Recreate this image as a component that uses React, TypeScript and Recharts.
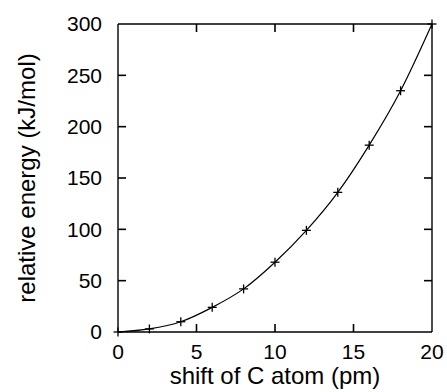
import { LineChart, Line, XAxis, YAxis } from "recharts";

const shiftPm = [0, 2, 4, 6, 8, 10, 12, 14, 16, 18, 20];
const energyKJ = [0, 3, 10, 24, 42, 68, 99, 136, 182, 235, 300];
const xTicks = [0, 5, 10, 15, 20];
const yTicks = [0, 50, 100, 150, 200, 250, 300];

const data = shiftPm.map((x, i) => ({ x, e: energyKJ[i] }));

const FONT = "'Liberation Sans', Arial, Helvetica, sans-serif";
const INK = "#000";
const X_MAX = 20;
const Y_MAX = 300;
const TICK_PX = 8;

// tick marks along the frame, placed through the chart scales
const bottomTicks = xTicks.filter((t) => t > 0 && t < X_MAX).map((t) => ({ x: t, e: 0 }));
const topTicks = xTicks.filter((t) => t > 0 && t < X_MAX).map((t) => ({ x: t, e: Y_MAX }));
const leftTicks = yTicks.filter((t) => t > 0 && t < Y_MAX).map((t) => ({ x: 0, e: t }));
const rightTicks = yTicks.filter((t) => t > 0 && t < Y_MAX).map((t) => ({ x: X_MAX, e: t }));

function Plus(props: any) {
  const { cx, cy } = props;
  if (cx == null || cy == null) return null;
  const s = 4.5;
  return (
    <g stroke={INK} strokeWidth={1.3}>
      <line x1={cx - s} y1={cy} x2={cx + s} y2={cy} />
      <line x1={cx} y1={cy - s} x2={cx} y2={cy + s} />
    </g>
  );
}

function tickMark(dx: number, dy: number) {
  return (props: any) => {
    const { cx, cy, index } = props;
    if (cx == null || cy == null) return null;
    return (
      <path key={`t${index}`} d={`M${cx},${cy}L${cx + dx * TICK_PX},${cy + dy * TICK_PX}`}
        stroke={INK} strokeWidth={1.6} fill="none" />
    );
  };
}

function XTitle(props: any) {
  const vb = props.viewBox;
  return (
    <text x={vb.x + vb.width / 2} y={vb.y + 52} textAnchor="middle"
      fontSize={24} fontFamily={FONT} fill={INK}>
      shift of C atom (pm)
    </text>
  );
}

function YTitle(props: any) {
  const vb = props.viewBox;
  const cx = vb.x + 35;
  const cy = vb.y + vb.height / 2;
  return (
    <text x={cx} y={cy} transform={`rotate(-90 ${cx} ${cy})`} textAnchor="middle"
      fontSize={24} fontFamily={FONT} fill={INK}>
      relative energy (kJ/mol)
    </text>
  );
}

const tickStyle = { fontSize: 21, fontFamily: FONT, fill: INK };
const lineStyle = { stroke: INK, strokeWidth: 1.4 };

export default function App() {
  const tickSeries: [any[], number, number][] = [
    [bottomTicks, 0, -1],
    [topTicks, 0, 1],
    [leftTicks, 1, 0],
    [rightTicks, -1, 0],
  ];
  return (
    <div style={{ position: "absolute", left: 0, top: 0, background: "#fff" }}>
      <LineChart width={447} height={392} data={data}
        margin={{ top: 24, right: 15, bottom: 0, left: 0 }}>
        <XAxis xAxisId="b" dataKey="x" type="number" domain={[0, X_MAX]} ticks={xTicks}
          height={60} tickSize={0} tickMargin={12} tick={tickStyle}
          axisLine={lineStyle} tickLine={false} label={<XTitle />} />
        <XAxis xAxisId="t" mirror orientation="top" dataKey="x" type="number"
          domain={[0, X_MAX]} ticks={xTicks} tick={false}
          axisLine={lineStyle} tickLine={false} />
        <YAxis yAxisId="l" type="number" domain={[0, Y_MAX]} ticks={yTicks} width={118}
          tickSize={0} tickMargin={16} tick={tickStyle}
          axisLine={lineStyle} tickLine={false} label={<YTitle />} />
        <YAxis yAxisId="r" mirror orientation="right" type="number" domain={[0, Y_MAX]}
          ticks={yTicks} tick={false} axisLine={lineStyle} tickLine={false} />

        {tickSeries.map(([pts, dx, dy], i) => (
          <Line key={`tk${i}`} xAxisId="b" yAxisId="l" data={pts} dataKey="e"
            stroke="none" strokeWidth={0} dot={tickMark(dx, dy)} activeDot={false}
            legendType="none" isAnimationActive={false} />
        ))}

        <Line xAxisId="b" yAxisId="l" dataKey="e" type="monotone" stroke={INK}
          strokeWidth={1.2} dot={<Plus />} activeDot={false} isAnimationActive={false} />
      </LineChart>
    </div>
  );
}
